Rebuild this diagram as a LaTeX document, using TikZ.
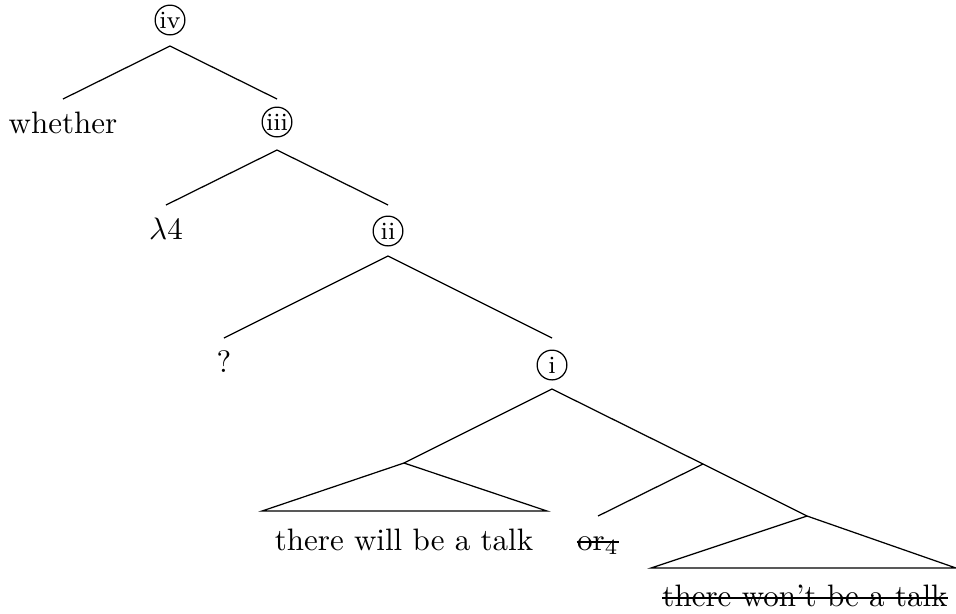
\documentclass[tikz,border=0pt]{standalone}
\usetikzlibrary{calc}
\begin{document}
\begin{tikzpicture}[x=0.3226pt,y=-0.3226pt,
  circ/.style={draw,circle,minimum size=9.6pt,inner sep=0pt,font=\footnotesize,line width=0.4pt},
  word/.style={inner sep=0pt,anchor=base},
  branch/.style={line width=0.4pt},
  strike/.style={line width=0.4pt}]
\useasboundingbox (0,0) rectangle (956,613);
% nodes
\node[circ] (iv) at (170,20) {iv};
\node[word] (whether) at (63,133) {whether};
\node[circ] (iii) at (277,122) {iii};
\node[word] (lam) at (166,239) {$\lambda$4};
\node[circ] (ii) at (388,231) {ii};
\node[word] (q) at (224,372) {?};
\node[circ] (i) at (552,365) {i};
\coordinate (a1) at (404,463);
\coordinate (b1l) at (262,511);
\coordinate (b1r) at (547,511);
\node[word] (txt1) at (404,550) {there will be a talk};
\coordinate (j) at (703,464);
\node[word] (or4) at (598,550) {or$_4$};
\coordinate (a2) at (807,516);
\coordinate (b2l) at (651,568);
\coordinate (b2r) at (956,568);
\node[word] (txt2) at (805,606) {there won't be a talk};
% strike-throughs
\draw[strike] ([yshift=2.6pt]or4.base west) -- ([yshift=2.6pt]or4.base east);
\draw[strike] ([yshift=2.6pt]txt2.base west) -- ([yshift=2.6pt]txt2.base east);
% branches
\draw[branch] ($(iv)+(0,26)$) -- ($(whether.base)+(0,-34)$);
\draw[branch] ($(iv)+(0,26)$) -- ($(iii)+(0,-23)$);
\draw[branch] ($(iii)+(0,28)$) -- ($(lam.base)+(0,-34)$);
\draw[branch] ($(iii)+(0,28)$) -- ($(ii)+(0,-26)$);
\draw[branch] ($(ii)+(0,25)$) -- ($(q.base)+(0,-34)$);
\draw[branch] ($(ii)+(0,25)$) -- ($(i)+(0,-27)$);
\draw[branch] ($(i)+(0,24)$) -- (a1);
\draw[branch] ($(i)+(0,24)$) -- (j);
\draw[branch] (j) -- ($(or4.base)+(0,-34)$);
\draw[branch] (j) -- (a2);
\draw[branch] (a1) -- (b1l) -- (b1r) -- cycle;
\draw[branch] (a2) -- (b2l) -- (b2r) -- cycle;
\end{tikzpicture}
\end{document}
